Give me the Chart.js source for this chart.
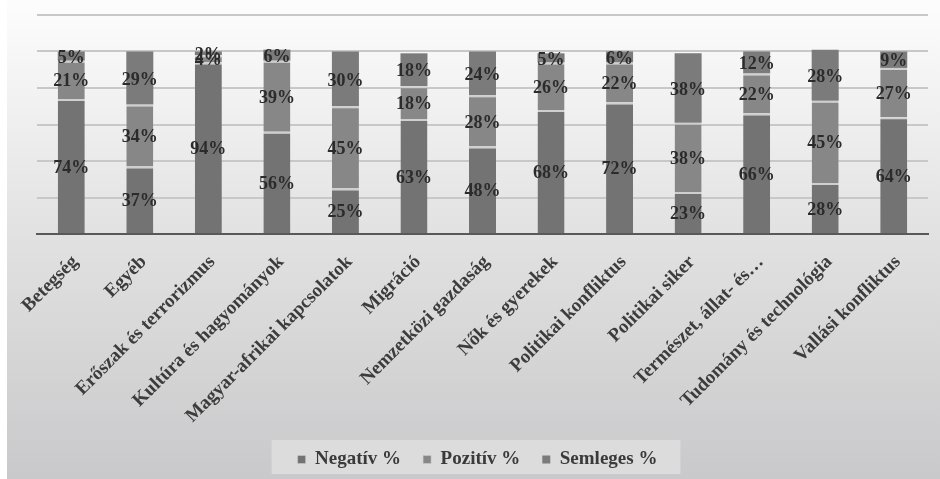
<!DOCTYPE html>
<html>
<head>
<meta charset="utf-8">
<script src="https://cdn.jsdelivr.net/npm/chart.js@4.4.0/dist/chart.umd.min.js"></script>
<style>
  html, body { margin: 0; padding: 0; background: #ffffff; }
  #wrap { position: absolute; left: 7px; top: 0; width: 933px; height: 479px; }
</style>
</head>
<body>
<div id="wrap"><canvas id="c"></canvas></div>
<script>
// Topics
const categories = [
  'Betegség', 'Egyéb', 'Erőszak és terrorizmus', 'Kultúra és hagyományok',
  'Magyar-afrikai kapcsolatok', 'Migráció', 'Nemzetközi gazdaság', 'Nők és gyerekek',
  'Politikai konfliktus', 'Politikai siker', 'Természet, állat- és…',
  'Tudomány és technológia', 'Vallási konfliktus'
];
// Share of articles by tone, percent
const negativ  = [74, 37, 94, 56, 25, 63, 48, 68, 72, 23, 66, 28, 64];
const pozitiv  = [21, 34,  4, 39, 45, 18, 28, 26, 22, 38, 22, 45, 27];
const semleges = [ 5, 29,  2,  6, 30, 18, 24,  5,  6, 38, 12, 28,  9];
const seriesNames = ['Negatív %', 'Pozitív %', 'Semleges %'];

const SERIF = '"Liberation Serif", "Times New Roman", serif';

// Soft grey backdrop plus the lighter panel behind the legend
const backdrop = {
  id: 'backdrop',
  beforeDraw(chart) {
    const { ctx, width, height } = chart;
    ctx.save();
    const g = ctx.createLinearGradient(0, 0, 0, height);
    g.addColorStop(0, '#fdfdfd');
    g.addColorStop(0.5, '#e1e1e1');
    g.addColorStop(1, '#c9c9cb');
    ctx.fillStyle = g;
    ctx.fillRect(0, 0, width, height);
    const lg = chart.legend;
    if (lg && lg.legendHitBoxes && lg.legendHitBoxes.length) {
      const hb = lg.legendHitBoxes;
      const l = Math.min(...hb.map(h => h.left)) - 26;
      const r = Math.max(...hb.map(h => h.left + h.width)) + 23;
      const t = hb[0].top - 10;
      const b = hb[0].top + hb[0].height + 5;
      ctx.fillStyle = '#dcdcdc';
      ctx.fillRect(l, t, r - l, b - t);
    }
    ctx.restore();
  }
};

// Percent value printed in the middle of every segment
const valueLabels = {
  id: 'valueLabels',
  afterDatasetsDraw(chart) {
    const ctx = chart.ctx;
    ctx.save();
    ctx.font = 'bold 18px ' + SERIF;
    ctx.fillStyle = '#2b2b2b';
    ctx.textAlign = 'center';
    ctx.textBaseline = 'middle';
    chart.data.datasets.forEach((ds, i) => {
      chart.getDatasetMeta(i).data.forEach((bar, j) => {
        const y = (bar.y + bar.base) / 2 + 2;
        ctx.fillText(ds.data[j] + '%', bar.x, y);
      });
    });
    ctx.restore();
  }
};

const sep = '#cfcfcf';
new Chart(document.getElementById('c'), {
  type: 'bar',
  data: {
    labels: categories,
    datasets: [
      { label: seriesNames[0], data: negativ,  backgroundColor: '#737373',
        borderColor: sep, borderWidth: { top: 2, left: 0, right: 0, bottom: 0 }, borderSkipped: false },
      { label: seriesNames[1], data: pozitiv,  backgroundColor: '#878787',
        borderColor: sep, borderWidth: { top: 2, left: 0, right: 0, bottom: 0 }, borderSkipped: false },
      { label: seriesNames[2], data: semleges, backgroundColor: '#7b7b7b', borderWidth: 0 }
    ]
  },
  options: {
    responsive: true,
    maintainAspectRatio: false,
    animation: false,
    events: [],
    layout: { padding: { left: 20, right: 12, top: 15, bottom: 0 } },
    datasets: { bar: { categoryPercentage: 1, barPercentage: 0.394 } },
    scales: {
      x: {
        stacked: true,
        z: 1,
        grid: { display: false, drawTicks: false },
        border: { display: true, color: '#595959', width: 2 },
        ticks: {
          autoSkip: false, minRotation: 45, maxRotation: 45, padding: 17, labelOffset: 4,
          color: '#3c3c3c', font: { family: SERIF, weight: 'bold', size: 19 }
        },
        afterFit(s) {
          s.height = 194;
          s.paddingLeft = 0;
          s.paddingRight = 0;
        }
      },
      y: {
        stacked: true,
        min: 0, max: 120,
        ticks: { display: false, stepSize: 20 },
        grid: { color: '#c8c8c8', lineWidth: 2, drawTicks: false },
        border: { display: false },
        afterFit(s) { s.width = 10; }
      }
    },
    plugins: {
      legend: {
        position: 'bottom',
        labels: {
          boxWidth: 8, boxHeight: 8, padding: 22,
          color: '#3a3a3a', font: { family: SERIF, weight: 'bold', size: 19 }
        }
      },
      tooltip: { enabled: false },
      title: { display: false }
    }
  },
  plugins: [backdrop, valueLabels]
});
</script>
</body>
</html>
